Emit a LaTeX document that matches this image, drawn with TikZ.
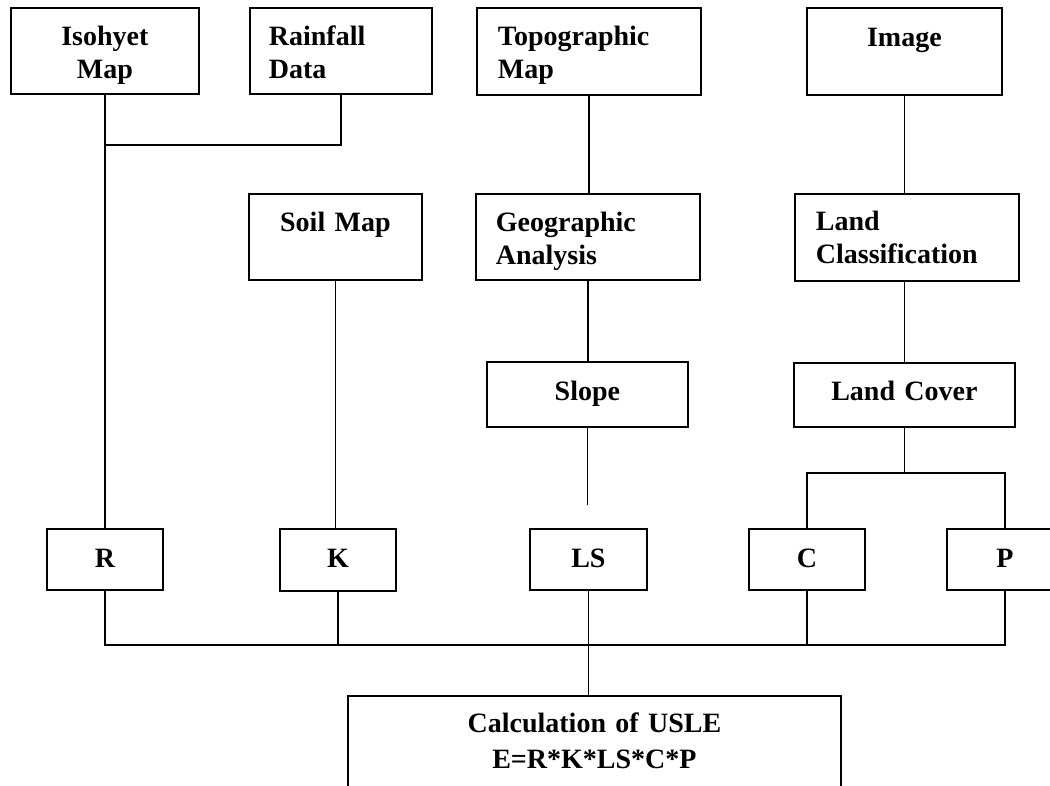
\documentclass[tikz,border=0pt]{standalone}
\usepackage{fontspec}
\setmainfont{Liberation Serif}
\newcommand\hr[1]{\rule{0pt}{#1}}
\newcommand\dr[1]{\rule[-#1]{0pt}{#1}}
\begin{document}
\begin{tikzpicture}[x=1pt,y=-1pt,
  box/.style={draw,line width=1.8pt,rectangle,inner ysep=0pt,anchor=north west,
    font=\fontsize{28}{33}\selectfont\bfseries},
  cbox/.style={box,align=center,inner xsep=4pt},
  lbox/.style={box,align=left,inner xsep=20pt},
  conn/.style={line width=1.8pt}]
\path[use as bounding box,fill=white] (0,0) rectangle (1050,785);

% top row
\node[cbox,text width=180pt] (iso) at (10,7) {\hr{38pt}Isohyet\\Map\dr{15pt}};
\node[lbox,inner xsep=19pt,text width=144pt] (rain) at (249,7) {\hr{38pt}Rainfall\\Data\dr{15pt}};
\node[lbox,inner xsep=21pt,text width=182pt] (topo) at (476,7) {\hr{38pt}Topographic\\Map\dr{16pt}};
\node[cbox,text width=187pt] (img) at (806,7) {\hr{39pt}Image\dr{48pt}};

% second row
\node[cbox,text width=165pt] (soil) at (248,193) {\hr{38pt}Soil Map\dr{48pt}};
\node[lbox,text width=184pt] (geo) at (475,193) {\hr{38pt}Geographic\\Analysis\dr{15pt}};
\node[lbox,inner xsep=21pt,text width=182pt] (lc) at (794,193) {\hr{37pt}Land\\Classification\dr{17pt}};

% third row
\node[cbox,text width=193pt] (slope) at (486,361) {\hr{39pt}Slope\dr{26pt}};
\node[cbox,text width=213pt] (lcov) at (793,362) {\hr{38pt}Land Cover\dr{26pt}};

% factor row
\node[cbox,text width=108pt] (R) at (46,528) {\hr{39pt}R\dr{22pt}};
\node[cbox,text width=108pt] (K) at (279,528) {\hr{39pt}K\dr{23pt}};
\node[cbox,text width=109pt] (LS) at (529,528) {\hr{39pt}LS\dr{22pt}};
\node[cbox,text width=108pt] (C) at (748,528) {\hr{39pt}C\dr{22pt}};
\node[cbox,text width=108pt] (P) at (946,528) {\hr{39pt}P\dr{22pt}};

% result
\node[cbox,text width=485pt,font=\fontsize{28}{36}\selectfont\bfseries] (usle) at (347,695)
  {\hr{37pt}Calculation of USLE\\E=R*K*LS*C*P\dr{47pt}};

% connectors
\coordinate (j1) at (iso.south |- 0,145);
\draw[conn] (iso.south) -- (iso.south |- R.north);
\draw[conn] (rain.south) |- (j1);
\draw[conn] (topo.south) -- (topo.south |- geo.north);
\draw[conn] (img.south) -- (img.south |- lc.north);
\draw[conn] (geo.south) -- (geo.south |- slope.north);
\coordinate (send) at (slope.south |- 0,505);
\draw[conn] (slope.south) -- (send);
\draw[conn] (lcov.north |- lc.south) -- (lcov.north);
\coordinate (br) at (lcov.south |- 0,473);
\draw[conn] (lcov.south) -- (br);
\draw[conn] (C.north) |- (br) -| (P.north);
\draw[conn] (soil.south) -- (soil.south |- K.north);
\coordinate (bus) at (LS.south |- 0,645);
\draw[conn] (R.south) |- (bus) -| (P.south);
\draw[conn] (K.south) -- (K.south |- bus);
\draw[conn] (C.south) -- (C.south |- bus);
\draw[conn] (LS.south) -- (LS.south |- usle.north);
\end{tikzpicture}
\end{document}
